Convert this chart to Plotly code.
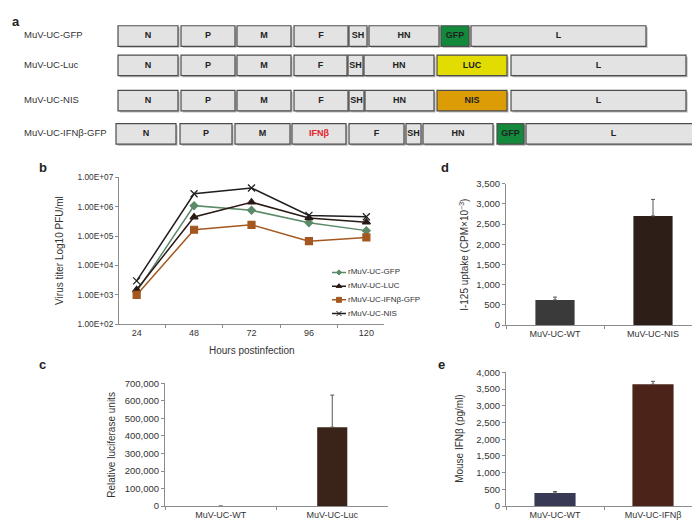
import plotly.graph_objects as go

W, H = 700, 522
FONT = "Liberation Sans, Arial, sans-serif"

# ---------------- Panel a: genome maps (diagram units) ----------------
constructs = ["MuV-UC-GFP", "MuV-UC-Luc", "MuV-UC-NIS", "MuV-UC-IFNβ-GFP"]
construct_rows = [22.5, 52.5, 88.5, 122.5]

gfp_genes = ["N", "P", "M", "F", "SH", "HN", "GFP", "L"]
gfp_start = [110, 173, 229, 286, 341, 361, 433, 463]
gfp_end = [170, 227, 283, 340, 359, 431, 461, 638]

luc_genes = ["N", "P", "M", "F", "SH", "HN", "LUC", "L"]
luc_start = [110, 173, 229, 286, 340, 356, 429, 503]
luc_end = [170, 227, 283, 339, 355, 426, 499, 678]

nis_genes = ["N", "P", "M", "F", "SH", "HN", "NIS", "L"]
nis_start = [110, 173, 229, 286, 341, 357, 429, 503]
nis_end = [170, 227, 283, 340, 356, 426, 499, 678]

ifn_genes = ["N", "P", "M", "IFNβ", "F", "SH", "HN", "GFP", "L"]
ifn_start = [108, 172, 227, 284, 341, 398, 415, 489, 518]
ifn_end = [168, 224, 282, 338, 396, 413, 485, 516, 693]

gene_fill = {"GFP": "#13893b", "LUC": "#e3dc02", "NIS": "#db9c06"}
gene_text_color = {"IFNβ": "#e5202a"}

# ---------------- Panel b: virus titer ----------------
hours = ["24", "48", "72", "96", "120"]
titer_gfp = [1.3e3, 1.1e6, 7.6e5, 2.9e5, 1.55e5]
titer_luc = [1.5e3, 4.5e5, 1.44e6, 4.2e5, 3.0e5]
titer_ifn = [1.0e3, 1.66e5, 2.45e5, 6.8e4, 9.1e4]
titer_nis = [3.0e3, 2.8e6, 4.4e6, 5.1e5, 4.6e5]
titer_ticks = [1e2, 1e3, 1e4, 1e5, 1e6, 1e7]
titer_ticktext = ["1.00E+02", "1.00E+03", "1.00E+04", "1.00E+05", "1.00E+06", "1.00E+07"]

# ---------------- Panel c: luciferase ----------------
luc_cats = ["MuV-UC-WT", "MuV-UC-Luc"]
luc_vals = [0, 450000]
luc_err = [0, 183000]

# ---------------- Panel d: I-125 uptake ----------------
nis_cats = ["MuV-UC-WT", "MuV-UC-NIS"]
nis_vals = [620, 2700]
nis_err = [70, 410]

# ---------------- Panel e: IFNβ ----------------
ifnb_cats = ["MuV-UC-WT", "MuV-UC-IFNβ"]
ifnb_vals = [390, 3640]
ifnb_err = [45, 90]


def px(x):
    return x / W


def py(y):
    return 1 - y / H


fig = go.Figure()

# genome map bars
maps = [
    (gfp_genes, gfp_start, gfp_end),
    (luc_genes, luc_start, luc_end),
    (nis_genes, nis_start, nis_end),
    (ifn_genes, ifn_start, ifn_end),
]
for (genes, starts, ends), row in zip(maps, construct_rows):
    lengths = [e - s for s, e in zip(starts, ends)]
    # shadow
    fig.add_trace(go.Bar(
        orientation="h", y=[row + 1.6] * len(genes), x=lengths,
        base=[s + 1.6 for s in starts], width=21,
        marker=dict(color="rgba(0,0,0,0.28)", line=dict(width=0)),
        xaxis="x", yaxis="y", showlegend=False, hoverinfo="skip"))
    fig.add_trace(go.Bar(
        orientation="h", y=[row] * len(genes), x=lengths, base=starts, width=21,
        marker=dict(color=[gene_fill.get(g, "#e3e3e3") for g in genes],
                    line=dict(color="#4d4d4d", width=1.2)),
        xaxis="x", yaxis="y", showlegend=False))
    fig.add_trace(go.Scatter(
        x=[(s + e) / 2 for s, e in zip(starts, ends)], y=[row] * len(genes),
        mode="text", text=genes,
        textfont=dict(family=FONT, size=9,
                      color=[gene_text_color.get(g, "#222222") for g in genes],
                      weight="bold"),
        xaxis="x", yaxis="y", showlegend=False, hoverinfo="skip"))

fig.add_trace(go.Scatter(
    x=[16] * len(constructs), y=construct_rows, mode="text", text=constructs,
    textposition="middle right",
    textfont=dict(family=FONT, size=9.5, color="#333333"),
    xaxis="x", yaxis="y", showlegend=False, hoverinfo="skip"))

# panel b lines
series = [
    ("rMuV-UC-GFP", titer_gfp, "#5b8a68", "diamond", 6),
    ("rMuV-UC-LUC", titer_luc, "#2a1a15", "triangle-up", 7),
    ("rMuV-UC-IFNβ-GFP", titer_ifn, "#a4581f", "square", 7),
    ("rMuV-UC-NIS", titer_nis, "#1e1e1e", "x-thin", 7),
]
for i, (name, vals, col, sym, sz) in enumerate(series):
    fig.add_trace(go.Scatter(
        x=hours, y=vals, name=name, mode="lines+markers",
        line=dict(color=col, width=1.5),
        marker=dict(symbol=sym, size=sz, color=col, line=dict(color=col, width=1.2)),
        xaxis="x2", yaxis="y2", showlegend=False))
    # compact legend entry (own hidden axes, one row per series)
    fig.add_trace(go.Scatter(
        x=[0, 14], y=[i, i], mode="lines", line=dict(color=col, width=1.5),
        xaxis="x6", yaxis="y6", showlegend=False, hoverinfo="skip"))
    fig.add_trace(go.Scatter(
        x=[7], y=[i], mode="markers",
        marker=dict(symbol=sym, size=sz - 2, color=col, line=dict(color=col, width=1)),
        xaxis="x6", yaxis="y6", showlegend=False, hoverinfo="skip"))
    fig.add_trace(go.Scatter(
        x=[16], y=[i], mode="text", text=[name], textposition="middle right",
        textfont=dict(family=FONT, size=8, color="#333333"),
        xaxis="x6", yaxis="y6", showlegend=False, hoverinfo="skip"))

# panel c
fig.add_trace(go.Bar(
    x=luc_cats, y=luc_vals, width=0.27,
    marker=dict(color="#3a2419", line=dict(width=0)),
    error_y=dict(type="data", array=luc_err, arrayminus=[0, 0], symmetric=False,
                 color="#555555", thickness=1, width=2),
    xaxis="x3", yaxis="y3", showlegend=False))

# panel d
fig.add_trace(go.Bar(
    x=nis_cats, y=nis_vals, width=0.4,
    marker=dict(color=["#3a3a3a", "#2e1e18"], line=dict(width=0)),
    error_y=dict(type="data", array=nis_err, arrayminus=[0, 0], symmetric=False,
                 color="#555555", thickness=1, width=2),
    xaxis="x4", yaxis="y4", showlegend=False))

# panel e
fig.add_trace(go.Bar(
    x=ifnb_cats, y=ifnb_vals, width=0.42,
    marker=dict(color=["#383a55", "#4b2319"], line=dict(width=0)),
    error_y=dict(type="data", array=ifnb_err, arrayminus=[0, 0], symmetric=False,
                 color="#555555", thickness=1, width=2),
    xaxis="x5", yaxis="y5", showlegend=False))

axis_line = dict(showline=True, linecolor="#8c8c8c", linewidth=1, showgrid=False,
                 zeroline=False, ticks="outside", tickcolor="#8c8c8c", ticklen=3)
tickfont = dict(family=FONT, size=9.5, color="#333333")
cat_font = dict(family=FONT, size=9, color="#333333")

fig.update_layout(
    width=W, height=H, margin=dict(l=0, r=0, t=0, b=0),
    paper_bgcolor="white", plot_bgcolor="rgba(0,0,0,0)",
    barmode="overlay", font=dict(family=FONT, color="#333333"), showlegend=False,
    xaxis=dict(domain=[0, 1], range=[0, W], visible=False, fixedrange=True),
    yaxis=dict(domain=[py(140), 1], range=[140, 0], visible=False),
    xaxis2=dict(domain=[px(111), px(376)], anchor="y2", type="category",
                tickson="boundaries", tickfont=cat_font, **axis_line),
    yaxis2=dict(domain=[py(317), py(167)], anchor="x2", type="log", range=[2, 7],
                tickvals=titer_ticks, ticktext=titer_ticktext,
                tickfont=dict(family=FONT, size=8.3, color="#333333"), **axis_line),
    xaxis3=dict(domain=[px(157), px(380)], anchor="y3", type="category",
                tickson="boundaries", tickfont=cat_font, **axis_line),
    yaxis3=dict(domain=[py(502.7), py(377.3)], anchor="x3", range=[0, 700000],
                dtick=100000, tickformat=",d", tickfont=tickfont, **axis_line),
    xaxis4=dict(domain=[px(498), px(694)], anchor="y4", type="category",
                tickson="boundaries", tickfont=cat_font, **axis_line),
    yaxis4=dict(domain=[py(317.7), py(173.3)], anchor="x4", range=[0, 3500],
                dtick=500, tickformat=",d", tickfont=tickfont, **axis_line),
    xaxis5=dict(domain=[px(498), px(694)], anchor="y5", type="category",
                tickson="boundaries", tickfont=cat_font, **axis_line),
    yaxis5=dict(domain=[py(502.7), py(366)], anchor="x5", range=[0, 4000],
                dtick=500, tickformat=",d", tickfont=tickfont, **axis_line),
    xaxis6=dict(domain=[px(324), px(424)], anchor="y6", range=[0, 100], visible=False),
    yaxis6=dict(domain=[py(313), py(257)], anchor="x6", range=[3.5, -0.5], visible=False),
)

annos = [
    ("a", 8, 8, 0, 13, True),
    ("b", 35, 157, 0, 13, True),
    ("c", 34, 358, 0, 13, True),
    ("d", 437, 157, 0, 13, True),
    ("e", 433, 358, 0, 13, True),
    ("Virus titer Log10 PFU/ml", 52, 242, -90, 10, False),
    ("Hours postinfection", 244, 344, 0, 10, False),
    ("Relative luciferase units", 104, 440, -90, 10, False),
    ("I-125 uptake (CPM×10<sup>−3</sup>)", 456, 246, -90, 10, False),
    ("Mouse IFNβ (pg/ml)", 452, 434, -90, 10, False),
]
for text, x, y, ang, size, bold in annos:
    fig.add_annotation(
        text=text, x=px(x), y=py(y), xref="paper", yref="paper",
        xanchor="center", yanchor="middle", showarrow=False, textangle=ang,
        font=dict(family=FONT, size=size, color="#222222" if bold else "#333333",
                  weight="bold" if bold else "normal"))

fig.write_html("out.html")
